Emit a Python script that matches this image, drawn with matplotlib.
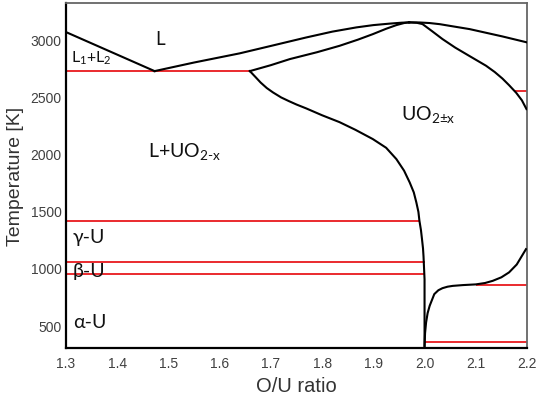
import matplotlib.pyplot as plt

plt.rcParams['font.family'] = ['Liberation Sans', 'DejaVu Sans']
plt.rcParams['mathtext.fontset'] = 'custom'
plt.rcParams['mathtext.rm'] = 'Lato'
plt.rcParams['mathtext.it'] = 'Lato:italic'

# === 相圖邊界資料 ===
# 左側 L1+L2 邊界
l1l2_x = [1.30, 1.473]
l1l2_t = [3061, 2720]

# 液相線（左側，到最高點）
liq_left_x = [1.473, 1.55, 1.639, 1.70, 1.769, 1.82, 1.867, 1.90, 1.932, 1.955, 1.970]
liq_left_t = [2720, 2795, 2875, 2940, 3014, 3065, 3102, 3122, 3135, 3143, 3146]

# 液相線（右側）
liq_right_x = [1.970, 1.99, 2.01, 2.03, 2.05, 2.088, 2.12, 2.152, 2.20]
liq_right_t = [3146, 3145, 3140, 3130, 3115, 3087, 3055, 3023, 2971]

# 固相線上支（1.66 到最高點）
sol_up_x = [1.659, 1.70, 1.737, 1.79, 1.834, 1.87, 1.899, 1.925, 1.945, 1.960, 1.970]
sol_up_t = [2720, 2772, 2825, 2885, 2941, 2995, 3043, 3090, 3122, 3140, 3146]

# 固相線下支（1.66 往下到 O/U = 2.0）
sol_low_x = [1.659, 1.67, 1.68, 1.692, 1.704, 1.72, 1.735, 1.75, 1.769, 1.80, 1.834, 1.865,
             1.899, 1.925, 1.945, 1.960, 1.971, 1.979, 1.984, 1.988, 1.990, 1.993, 1.995,
             1.997, 1.998, 1.999, 2.0, 2.0]
sol_low_t = [2720, 2668, 2620, 2572, 2534, 2490, 2458, 2428, 2394, 2334, 2274, 2207,
             2126, 2050, 1951, 1850, 1747, 1660, 1572, 1490, 1412, 1330, 1252,
             1170, 1100, 1000, 900, 300]

# 固相線右支（最高點往右下）
sol_right_x = [1.970, 1.985, 1.996, 2.015, 2.035, 2.06, 2.088, 2.12, 2.137, 2.152, 2.165,
               2.179, 2.19, 2.199]
sol_right_t = [3146, 3142, 3131, 3068, 3000, 2925, 2851, 2767, 2712, 2655, 2597,
               2530, 2465, 2388]

# 右下 UO2+x 邊界
hyper_x = [2.0, 2.001, 2.003, 2.006, 2.01, 2.019, 2.027, 2.035, 2.045, 2.055, 2.075,
           2.10, 2.118, 2.133, 2.15, 2.165, 2.18, 2.198]
hyper_t = [319, 430, 523, 605, 669, 771, 805, 823, 836, 843, 850,
           856, 868, 887, 918, 961, 1030, 1164]

# 水平紅線（不變溫度）
red_t = [2720, 2545, 1409, 1053, 948, 855, 349]
red_x0 = [1.30, 2.175, 1.30, 1.30, 1.30, 2.10, 2.0]
red_x1 = [1.659, 2.20, 1.990, 2.0, 2.0, 2.20, 2.20]

# 相區標籤
labels = ['L', r'L$_{\mathrm{1}}$+L$_{\mathrm{2}}$', r'L+UO$_{\mathrm{2\text{-}x}}$',
          r'UO$_{\text{2±x}}$', 'γ-U', 'β-U', 'α-U']
label_x = [1.475, 1.309, 1.460, 1.955, 1.313, 1.313, 1.313]
label_t = [2956, 2799, 1977, 2300, 1225, 928, 483]
label_size = [13.5, 11.5, 14, 14, 14, 14, 14]

xticks = [1.3, 1.4, 1.5, 1.6, 1.7, 1.8, 1.9, 2.0, 2.1, 2.2]
xtick_labels = ['1.3', '1.4', '1.5', '1.6', '1.7', '1.8', '1.9', '2.0', '2.1', '2.2']
yticks = [500, 1000, 1500, 2000, 2500, 3000]

# === 畫圖 ===
fig = plt.figure(figsize=(5.36, 4.02), dpi=100)
ax = fig.add_axes([0.1231, 0.1318, 0.8601, 0.8582])

red = '#e8191e'
for t, x0, x1 in zip(red_t, red_x0, red_x1):
    ax.plot([x0, x1], [t, t], color=red, lw=1.3, solid_capstyle='butt', zorder=2)

black_lines = [(l1l2_x, l1l2_t), (liq_left_x, liq_left_t), (liq_right_x, liq_right_t),
               (sol_up_x, sol_up_t), (sol_low_x, sol_low_t), (sol_right_x, sol_right_t),
               (hyper_x, hyper_t)]
for xs, ts in black_lines:
    ax.plot(xs, ts, color='black', lw=1.5, solid_joinstyle='round', zorder=3)

for txt, x, t, s in zip(labels, label_x, label_t, label_size):
    ax.text(x, t, txt, fontsize=s, family=['Lato', 'Open Sans', 'DejaVu Sans'],
            ha='left', va='baseline', color='#111111')

ax.set_xlim(1.3, 2.2)
ax.set_ylim(300, 3315)
ax.set_xticks(xticks)
ax.set_xticklabels(xtick_labels)
ax.set_yticks(yticks)
ax.tick_params(length=0, labelsize=10, labelcolor='#404040')
ax.tick_params(axis='x', pad=6)
ax.tick_params(axis='y', pad=3)

for side in ['left', 'bottom']:
    ax.spines[side].set_linewidth(1.6)
    ax.spines[side].set_color('black')
for side in ['top', 'right']:
    ax.spines[side].set_linewidth(1.3)
    ax.spines[side].set_color('#666666')

ax.set_xlabel('O/U ratio', fontsize=14.5, color='#333333', labelpad=4)
ax.set_ylabel('Temperature [K]', fontsize=14, color='#333333', labelpad=5)

plt.savefig('out.png', dpi=100)
